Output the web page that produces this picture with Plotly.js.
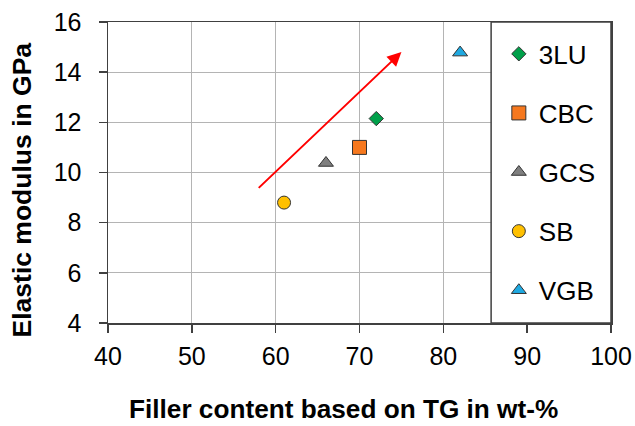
<!DOCTYPE html>
<html>
<head>
<meta charset="utf-8">
<script src="https://cdn.plot.ly/plotly-3.0.1.min.js"></script>
<style>html,body{margin:0;padding:0;background:#fff;}#chart{width:635px;height:426px;}</style>
</head>
<body>
<div id="chart"></div>
<script>
// Data
const materials = ['3LU', 'CBC', 'GCS', 'SB', 'VGB'];
const fillerContent = [72, 70, 66, 61, 82];        // wt-%
const elasticModulus = [12.15, 11.0, 10.38, 8.8, 14.78]; // GPa
const xTicks = [40, 50, 60, 70, 80, 90, 100];
const yTicks = [4, 6, 8, 10, 12, 14, 16];
const trendStart = [57.8, 9.33];
const trendEnd = [75.0, 14.8];
const legendBoxX = [85.7, 100];
const xTitle = 'Filler content based on TG in wt-%';
const yTitle = 'Elastic modulus in GPa';

// Styles
const symbols = {'3LU': 'diamond', 'CBC': 'square', 'GCS': 'triangle-up', 'SB': 'circle', 'VGB': 'triangle-up'};
const colors = {'3LU': '#00A04A', 'CBC': '#F6781E', 'GCS': '#7F7F7F', 'SB': '#FFC000', 'VGB': '#1FA9E1'};
const sizes = {'3LU': 11, 'CBC': 14, 'GCS': 13, 'SB': 13, 'VGB': 13};

const FONT = 'Arial, "Liberation Sans", Helvetica, sans-serif';

const traces = materials.map((m, i) => ({
  type: 'scatter', mode: 'markers', name: m, legendgroup: m,
  x: [fillerContent[i]], y: [elasticModulus[i]],
  marker: {symbol: symbols[m], color: colors[m], size: sizes[m], line: {color: '#333', width: 1}},
  cliponaxis: false
}));

const layout = {
  width: 635, height: 426,
  margin: {l: 108, r: 24, t: 22, b: 103},
  paper_bgcolor: '#fff', plot_bgcolor: '#fff',
  font: {family: FONT, color: '#000', size: 25},
  showlegend: true,
  legend: {
    x: 0.777, xanchor: 'left', y: 0.972, yanchor: 'top',
    bgcolor: 'rgba(0,0,0,0)', borderwidth: 0,
    font: {family: FONT, size: 26, color: '#000'},
    traceorder: 'grouped', tracegroupgap: 22.3, itemwidth: 30
  },
  xaxis: {
    range: [40, 100], tickvals: xTicks, ticktext: xTicks.map(String),
    showgrid: true, gridcolor: '#b4b4b4', gridwidth: 1,
    showline: true, linecolor: '#404040', linewidth: 1.5, mirror: true,
    ticks: 'outside', ticklen: 8, tickcolor: '#404040', tickwidth: 1.5,
    zeroline: false, ticklabelstandoff: 2,
    tickfont: {family: FONT, size: 25, color: '#000'}
  },
  yaxis: {
    range: [4, 16], tickvals: yTicks, ticktext: yTicks.map(String),
    showgrid: true, gridcolor: '#b4b4b4', gridwidth: 1,
    showline: true, linecolor: '#404040', linewidth: 1.5, mirror: true,
    ticks: 'outside', ticklen: 8, tickcolor: '#404040', tickwidth: 1.5,
    zeroline: false, ticklabelstandoff: 12,
    tickfont: {family: FONT, size: 25, color: '#000'}
  },
  shapes: [{
    type: 'rect', xref: 'x', yref: 'y',
    x0: legendBoxX[0], x1: legendBoxX[1], y0: yTicks[0], y1: yTicks[yTicks.length - 1],
    fillcolor: '#fff', line: {color: '#404040', width: 1.5}, layer: 'above'
  }],
  annotations: [{
    x: trendEnd[0], y: trendEnd[1], ax: trendStart[0], ay: trendStart[1],
    xref: 'x', yref: 'y', axref: 'x', ayref: 'y',
    text: '', showarrow: true, arrowhead: 2, arrowsize: 1.4, arrowwidth: 2, arrowcolor: '#FF0000'
  }, {
    text: '<b>' + xTitle + '</b>', xref: 'paper', yref: 'paper',
    x: 0.468, y: -0.285, xanchor: 'center', yanchor: 'middle', showarrow: false,
    font: {family: FONT, size: 26.2, color: '#000'}
  }, {
    text: '<b>' + yTitle + '</b>', xref: 'paper', yref: 'paper', textangle: -90,
    x: -0.172, y: 0.442, xanchor: 'center', yanchor: 'middle', showarrow: false,
    font: {family: FONT, size: 26.5, color: '#000'}
  }]
};

Plotly.newPlot('chart', traces, layout, {displayModeBar: false, staticPlot: true});
</script>
</body>
</html>
